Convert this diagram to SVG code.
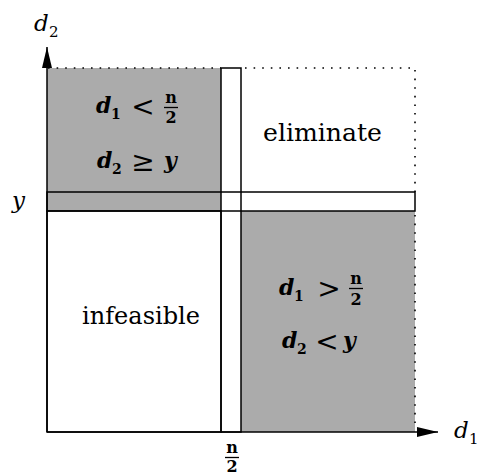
<svg xmlns="http://www.w3.org/2000/svg" width="480" height="476" viewBox="0 0 480 476">
<style>
.shade{fill:#ababab;stroke:none}
.ln{stroke:#000;stroke-width:1.5;fill:none}
.dot{stroke:#000;stroke-width:1.6;fill:none;stroke-dasharray:1.6 7;stroke-linecap:butt}
text{font-family:'DejaVu Serif','Liberation Serif',serif;fill:#000}
.lbl{font-size:25px}
.m{font-style:italic;font-weight:bold;font-size:22px}
.ax{font-style:italic;font-size:23px}
.sub{font-weight:bold;font-size:14px}
.subn{font-size:15px}
.op{font-size:28px;text-anchor:middle}
.fr{font-weight:bold;font-size:16px;text-anchor:middle}
.frl{stroke:#000;stroke-width:1.3}
</style>
<defs>
<marker id="ah" markerWidth="22" markerHeight="12" refX="21" refY="5" orient="auto" markerUnits="userSpaceOnUse">
<path d="M0,0 L21,5 L0,10 Z" fill="#000"/>
</marker>
</defs>
<rect width="480" height="476" fill="#fff"/>

<g id="region-top-left">
<rect class="shade" x="47" y="68" width="174" height="143"/>
<line class="dot" x1="48" y1="68" x2="221" y2="68"/>
<text class="m" x="96" y="113">d</text><text class="sub" x="111" y="119">1</text>
<text class="op" x="143" y="116">&lt;</text>
<text class="fr" x="171" y="103">n</text>
<line class="frl" x1="164" y1="107.5" x2="178" y2="107.5"/>
<text class="fr" x="171" y="123">2</text>
<text class="m" x="97" y="168">d</text><text class="sub" x="112" y="174">2</text>
<text class="op" x="143" y="171">≥</text>
<text class="m" x="164" y="168">y</text>
</g>

<g id="region-eliminate">
<line class="dot" x1="245" y1="68" x2="415" y2="68"/>
<line class="dot" x1="415" y1="70" x2="415" y2="192"/>
<text class="lbl" x="263" y="141" textLength="119" lengthAdjust="spacingAndGlyphs">eliminate</text>
</g>

<g id="region-infeasible">
<rect class="ln" x="47" y="211" width="174" height="221"/>
<text class="lbl" x="82" y="324" textLength="118" lengthAdjust="spacingAndGlyphs">infeasible</text>
</g>

<g id="region-bottom-right">
<rect class="shade" x="241" y="211" width="174" height="221"/>
<line class="dot" x1="415" y1="215" x2="415" y2="430"/>
<text class="m" x="279" y="295">d</text><text class="sub" x="294" y="301">1</text>
<text class="op" x="329" y="298">&gt;</text>
<text class="fr" x="356" y="284">n</text>
<line class="frl" x1="349" y1="288.5" x2="363" y2="288.5"/>
<text class="fr" x="356" y="305">2</text>
<text class="m" x="282" y="348">d</text><text class="sub" x="297" y="354">2</text>
<text class="op" x="327" y="351">&lt;</text>
<text class="m" x="343" y="348">y</text>
</g>

<g id="strip-vertical">
<rect class="ln" x="221" y="68" width="20" height="364"/>
</g>

<g id="strip-horizontal">
<rect class="ln" x="47" y="192" width="368" height="19"/>
</g>

<g id="connectors">
<line class="ln" x1="47" y1="432" x2="47" y2="47" marker-end="url(#ah)"/>
<line class="ln" x1="47" y1="432" x2="438" y2="432" marker-end="url(#ah)"/>
</g>

<g id="axis-labels">
<text class="ax" x="34" y="31">d</text><text class="subn" x="49" y="37">2</text>
<text class="ax" x="12" y="208">y</text>
<text class="ax" x="454" y="438">d</text><text class="subn" x="469" y="444">1</text>
<text class="fr" x="232" y="453">n</text>
<line class="frl" x1="225" y1="457.5" x2="239" y2="457.5"/>
<text class="fr" x="232" y="472">2</text>
</g>
</svg>
